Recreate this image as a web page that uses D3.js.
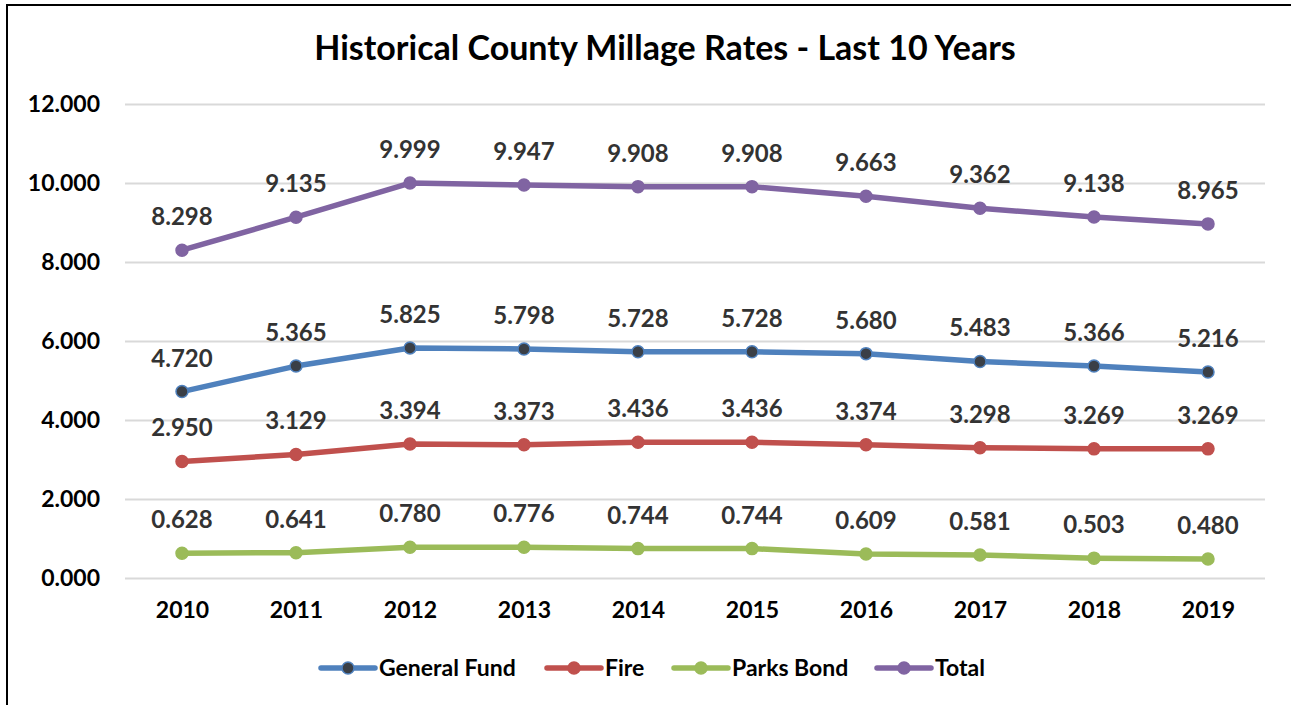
<!DOCTYPE html>
<html>
<head>
<meta charset="utf-8">
<script src="https://cdn.jsdelivr.net/npm/d3@7"></script>
<style>
  html, body { margin: 0; padding: 0; background: #fff; overflow: hidden; }
  svg { display: block; font-family: Lato, "Open Sans", sans-serif; }
</style>
</head>
<body>
<svg id="chart" width="1291" height="705"></svg>
<script>
const years = ["2010", "2011", "2012", "2013", "2014", "2015", "2016", "2017", "2018", "2019"]
const general_fund = [4.720, 5.365, 5.825, 5.798, 5.728, 5.728, 5.680, 5.483, 5.366, 5.216]
const fire = [2.950, 3.129, 3.394, 3.373, 3.436, 3.436, 3.374, 3.298, 3.269, 3.269]
const parks_bond = [0.628, 0.641, 0.780, 0.776, 0.744, 0.744, 0.609, 0.581, 0.503, 0.480]
const total = [8.298, 9.135, 9.999, 9.947, 9.908, 9.908, 9.663, 9.362, 9.138, 8.965]
const y_ticks = [0, 2, 4, 6, 8, 10, 12]
const series_names = ["General Fund", "Fire", "Parks Bond", "Total"]

const colors = ["#4f81bd", "#c0504d", "#9bbb59", "#8064a2"]
const marker_fill = ["#3a3f46", "#c0504d", "#9bbb59", "#8064a2"]

const series = [general_fund, fire, parks_bond, total].map((values, i) => ({
  name: series_names[i],
  color: colors[i],
  fill: marker_fill[i],
  points: values.map((v, j) => ({ year: years[j], value: v }))
}))

const margin = { top: 104, right: 26, bottom: 127, left: 125 }
const width = 1291
const height = 705

const svg = d3.select("#chart")

// outer frame (only top and left edges fall inside the picture)
svg.append("rect")
  .attr("x", 7).attr("y", 5)
  .attr("width", width + 20).attr("height", height + 20)
  .attr("fill", "none")
  .attr("stroke", "#000")
  .attr("stroke-width", 2)

const x = d3.scalePoint()
  .domain(years)
  .range([margin.left, width - margin.right])
  .padding(0.5)

const y = d3.scaleLinear()
  .domain([0, 12])
  .range([height - margin.bottom, margin.top])

// title
svg.append("text")
  .attr("x", 665)
  .attr("y", 60)
  .attr("text-anchor", "middle")
  .attr("font-size", 34)
  .attr("font-weight", 700)
  .attr("fill", "#000")
  .text("Historical County Millage Rates - Last 10 Years")

// gridlines + y labels
const y_axis = svg.append("g")
  .attr("transform", `translate(${margin.left},0)`)
  .call(d3.axisLeft(y)
    .tickValues(y_ticks)
    .tickSize(-(width - margin.left - margin.right))
    .tickPadding(25)
    .tickFormat(d3.format(".3f")))

y_axis.select(".domain").remove()
y_axis.selectAll(".tick line").attr("stroke", "#d9d9d9").attr("stroke-width", 2)
y_axis.selectAll(".tick text")
  .attr("font-family", "Lato")
  .attr("font-size", 23)
  .attr("font-weight", 700)
  .attr("fill", "#000")

// x labels
const x_axis = svg.append("g")
  .attr("transform", `translate(0,${height - margin.bottom})`)
  .call(d3.axisBottom(x).tickSize(0).tickPadding(24))

x_axis.select(".domain").remove()
x_axis.selectAll(".tick text")
  .attr("font-family", "Lato")
  .attr("font-size", 23)
  .attr("font-weight", 700)
  .attr("fill", "#000")

const line = d3.line()
  .x(d => x(d.year))
  .y(d => y(d.value))

series.forEach(s => {
  svg.append("path")
    .datum(s.points)
    .attr("d", line)
    .attr("fill", "none")
    .attr("stroke", s.color)
    .attr("stroke-width", 5.5)
    .attr("stroke-linejoin", "round")
    .attr("stroke-linecap", "round")

  svg.selectAll(null)
    .data(s.points)
    .enter()
    .append("circle")
    .attr("cx", d => x(d.year))
    .attr("cy", d => y(d.value))
    .attr("r", 6)
    .attr("fill", s.fill)
    .attr("stroke", s.color)
    .attr("stroke-width", 1.5)
})

// data labels above every point
series.forEach(s => {
  svg.selectAll(null)
    .data(s.points)
    .enter()
    .append("text")
    .attr("x", d => x(d.year))
    .attr("y", d => y(d.value) - 25)
    .attr("text-anchor", "middle")
    .attr("font-size", 24)
    .attr("font-weight", 700)
    .attr("fill", "#333")
    .text(d => d3.format(".3f")(d.value))
})

// legend
const legend_x = [321, 547, 674, 877]
const legend = svg.append("g").attr("transform", "translate(0,668)")

series.forEach((s, i) => {
  const g = legend.append("g").attr("transform", `translate(${legend_x[i]},0)`)
  g.append("line")
    .attr("x1", 0).attr("x2", 54)
    .attr("stroke", s.color)
    .attr("stroke-width", 5.5)
    .attr("stroke-linecap", "round")
  g.append("circle")
    .attr("cx", 27).attr("r", 6)
    .attr("fill", s.fill)
    .attr("stroke", s.color)
    .attr("stroke-width", 1.5)
  g.append("text")
    .attr("x", 58)
    .attr("dy", "0.35em")
    .attr("font-size", 23)
    .attr("font-weight", 700)
    .attr("fill", "#000")
    .text(s.name)
})
</script>
</body>
</html>
